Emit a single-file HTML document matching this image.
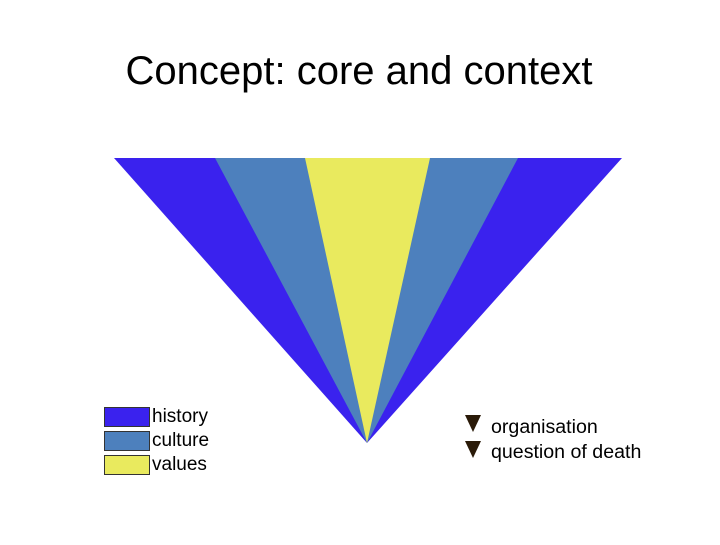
<!DOCTYPE html>
<html><head><style>
body{margin:0;width:720px;height:540px;background:#fff;overflow:hidden;font-family:"Liberation Sans",sans-serif}
</style></head><body>
<svg width="720" height="540" xmlns="http://www.w3.org/2000/svg" font-family="Liberation Sans, sans-serif">
<text x="359" y="84" font-size="40" text-anchor="middle" fill="#000">Concept: core and context</text>
<polygon points="114,158 622,158 367,443" fill="#3a22ee"/>
<polygon points="215,158 518,158 367,443" fill="#4d80bd"/>
<polygon points="305,158 430,158 367,443" fill="#e9ea5e"/>
<rect x="104.5" y="407.5" width="45" height="19" fill="#3a22ee" stroke="#333"/>
<rect x="104.5" y="431.5" width="45" height="19" fill="#4d80bd" stroke="#333"/>
<rect x="104.5" y="455.5" width="45" height="19" fill="#e9ea5e" stroke="#333"/>
<text x="152" y="422" font-size="19">history</text>
<text x="152" y="446" font-size="19">culture</text>
<text x="152" y="470" font-size="19">values</text>
<polygon points="465,415 481,415 473,432" fill="#2a1a08"/>
<polygon points="465,441 481,441 473,458" fill="#2a1a08"/>
<text x="491" y="433" font-size="19.6">organisation</text>
<text x="491" y="458" font-size="19.6">question of death</text>
</svg>
</body></html>
